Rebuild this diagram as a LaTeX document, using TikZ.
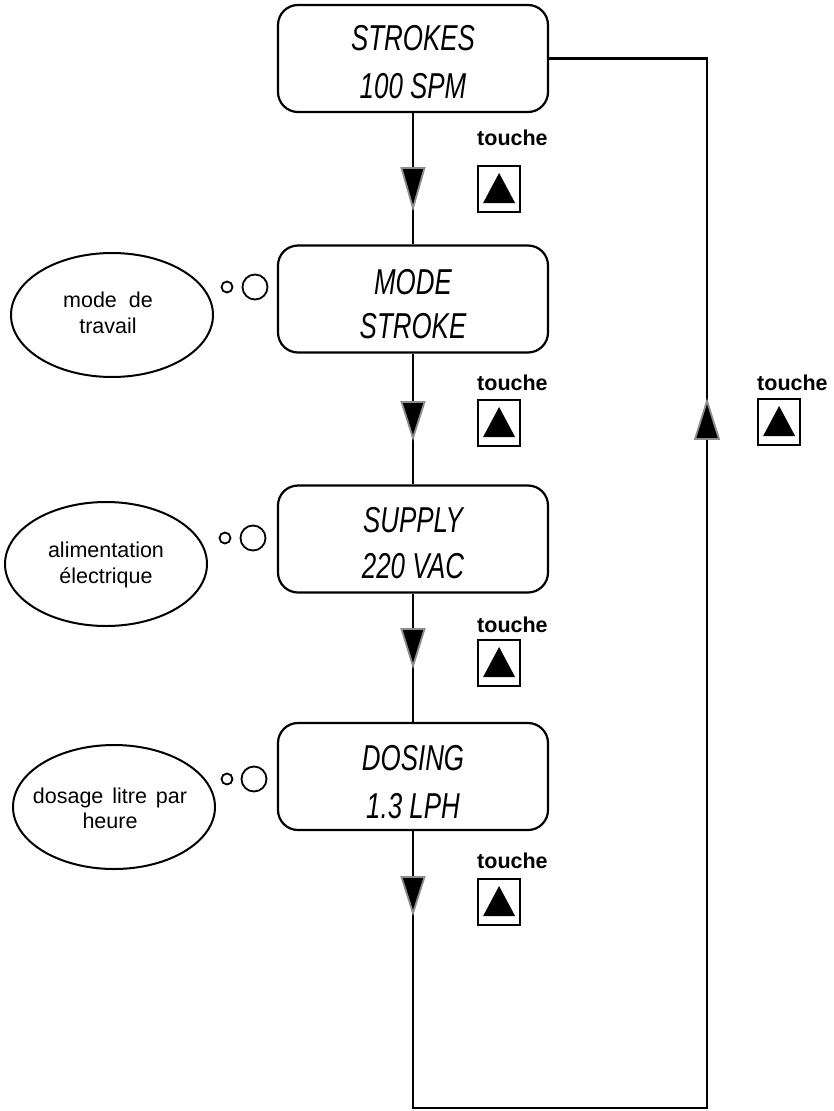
\documentclass[tikz,border=0pt]{standalone}
\usepackage{fontspec}
\setmainfont{Liberation Sans}
\newfontfamily\lcdfont{Liberation Sans}[FakeStretch=0.72]
\usetikzlibrary{shapes.geometric,calc}
\tikzset{
  conn/.style={line width=2.2pt, draw=black},
  lcdbox/.style={draw, line width=2.2pt, rounded corners=20pt, minimum width=270pt, minimum height=107pt, inner sep=0pt},
  lcdtext/.style={font=\lcdfont\itshape\fontsize{36}{36}\selectfont, anchor=base, inner sep=0pt},
  bubble/.style={draw, ellipse, line width=2pt, minimum width=202pt, minimum height=124pt, inner sep=0pt},
  bubbletext/.style={font=\fontsize{21.5}{26}\selectfont, anchor=base, inner sep=0pt},
  dot/.style={draw, circle, line width=1.8pt, inner sep=0pt},
  touchelbl/.style={font=\bfseries\fontsize{21.5}{21.5}\selectfont, anchor=base west, inner sep=0pt},
  keybox/.style={draw, line width=2.2pt, minimum width=42pt, minimum height=46pt, inner sep=0pt, anchor=north west},
  flowtri/.style={fill=black, draw=black!45, line width=1.8pt, line join=miter},
}
\begin{document}
\begin{tikzpicture}[x=1pt,y=-1pt]
\useasboundingbox (0,0) rectangle (834,1111);

% LCD boxes
\node[lcdbox] (b1) at (413,58.5) {};
\node[lcdbox] (b2) at (413,299) {};
\node[lcdbox] (b3) at (413,539) {};
\node[lcdbox] (b4) at (413,776.5) {};

\node[lcdtext] (t1a) at (413,50) {STROKES};
\node[lcdtext] (t1b) at (413,98) {100 SPM};
\node[lcdtext] (t2a) at (413,294) {MODE};
\node[lcdtext] (t2b) at (413,338) {STROKE};
\node[lcdtext] (t3a) at (413,532) {SUPPLY};
\node[lcdtext] (t3b) at (413,578) {220 VAC};
\node[lcdtext] (t4a) at (413,770) {DOSING};
\node[lcdtext] (t4b) at (413,818) {1.3 LPH};

% connectors
\coordinate (c1) at (707,1108);
\draw[conn] (b1.south) -- (b2.north);
\draw[conn] (b2.south) -- (b3.north);
\draw[conn] (b3.south) -- (b4.north);
\draw[conn] (b1.east) -| (c1) -| (b4.south);

% flow arrows (down)
\foreach \yt/\yb in {168/208, 402/438, 629/666, 877/913}{
  \filldraw[flowtri] (401.5,\yt) -- (424.5,\yt) -- (413,\yb) -- cycle;
}
% flow arrow (up)
\filldraw[flowtri] (695,439) -- (719,439) -- (707,401) -- cycle;

% keys
\foreach \n/\x/\yl/\yk in {k1/477/145/165, k2/477/390/399, k3/477/632/639, k4/477/868/878, k5/757/390/398}{
  \node[touchelbl] (l\n) at (\x,\yl) {touche};
  \node[keybox] (\n) at (\x,\yk) {};
  \fill ($(\n.north)+(0,8)$) -- ($(\n.south east)+(-6,-10)$) -- ($(\n.south west)+(6,-10)$) -- cycle;
}

% thought bubbles
\node[bubble] (e1) at (112,315) {};
\node[bubbletext] (e1a) at (108,307) {mode\hspace{6pt} de};
\node[bubbletext] (e1b) at (108,333) {travail};
\node[dot, minimum size=11pt] (s1) at (227,287) {};
\node[dot, minimum size=25pt] (g1) at (255,287) {};

\node[bubble] (e2) at (106,564) {};
\node[bubbletext] (e2a) at (106,557) {alimentation};
\node[bubbletext] (e2b) at (106,583) {électrique};
\node[dot, minimum size=11pt] (s2) at (225,538) {};
\node[dot, minimum size=25pt] (g2) at (253,538) {};

\node[bubble] (e3) at (114,807) {};
\node[bubbletext] (e3a) at (110,803) {dosage\hspace{3pt} litre\hspace{3pt} par};
\node[bubbletext] (e3b) at (110,828) {heure};
\node[dot, minimum size=11pt] (s3) at (227,779) {};
\node[dot, minimum size=25pt] (g3) at (254,779) {};
\end{tikzpicture}
\end{document}
